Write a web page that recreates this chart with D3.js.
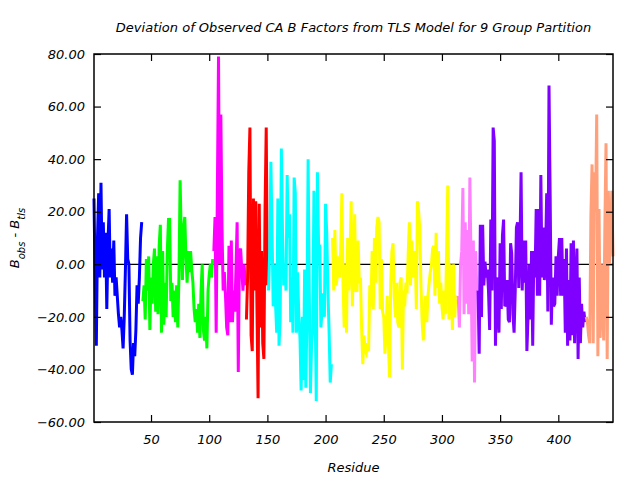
<!DOCTYPE html>
<html>
<head>
<meta charset="utf-8">
<script src="https://cdn.jsdelivr.net/npm/d3@7"></script>
<style>
  body { margin: 0; background: #fff; }
  svg text { font-family: "DejaVu Sans", sans-serif; font-style: italic; fill: #000; }
</style>
</head>
<body>
<svg id="chart" width="640" height="480"></svg>
<script>
// residue ranges of the 9 TLS groups (first residue of each)
var groupStarts = [1, 43, 104, 132, 151, 206, 314, 331, 424];
var groupColors = ["#0000ff", "#00ff00", "#ff00ff", "#ff0000", "#00ffff", "#ffff00", "#ff80ff", "#8000ff", "#ffa07a"];

// B_obs - B_tls per residue, one array per group
var group1 = [25,-7,-31,10,27,-5,31,-2,16,-5,12,-17,8,21,-5,6,-7,9,-12,-5,-12,-19,-24,-20,-25,-32,-20,-2,19,2,0,-29,-40,-42,-30,-35,-25,-8,-15,-5,10,16];
var group2 = [-14,-8,-21,2,-10,3,-25,-5,-15,0,6,-18,3,-19,7,15,-26,5,-23,-7,-20,5,17,17,-14,-7,-20,-10,-22,-8,-24,-5,32,10,-6,14,18,3,-7,5,-3,5,-2,-7,-17,-22,-17,-26,-15,-28,-10,0,-25,-29,-20,-32,-10,-4,0,-5,2];
var group3 = [5,18,-26,27,79,0,57,14,-10,-3,-12,-24,-27,7,-22,9,-22,-10,-18,-2,16,-41,5,6,-2,-10,0,-8];
var group4 = [-21,-5,35,52,-27,-33,25,-10,24,-15,-51,23,-24,5,-30,-36,21,52,-8];
var group5 = [-10,5,39,12,-16,0,-15,-26,25,-31,-20,44,12,-8,0,-10,34,10,19,-22,-5,-26,33,27,-26,-3,-20,-28,-48,-20,-44,-2,-47,-20,40,-10,-49,-30,-25,28,-15,-52,35,7,7,-24,-17,-11,-20,23,12,-10,-25,-45,-38];
var group6 = [10,-10,13,-8,-5,3,-5,5,27,-7,-24,0,-26,10,-10,3,24,-16,0,19,-10,-10,9,-7,-5,-25,-38,-27,-33,-34,-30,-33,-8,-16,5,-17,10,-7,14,18,16,-17,2,-18,-20,-34,-27,-12,-30,-43,-7,5,8,-12,-20,-7,-22,-24,-7,-5,-40,-10,-16,-7,-11,4,16,-8,9,-5,3,5,-17,24,20,13,-8,-22,-29,-17,-12,-22,-12,-7,-3,0,6,7,-12,12,-9,5,-15,-7,-16,-21,-10,-19,5,30,-21,0,-7,-25,0,-20,-12,-13];
var group7 = [-12,-24,0,5,29,-19,16,-15,13,-19,33,0,-37,9,-45,5,-10];
var group8 = [-10,-34,15,-20,15,-8,1,-5,-2,-10,-25,17,-10,52,47,-31,-5,-15,-26,8,-17,11,17,-16,-15,-6,-21,-22,8,4,-19,-26,-10,14,16,-9,5,35,-10,9,-7,9,-33,-20,0,-21,5,-31,5,-5,21,-12,21,-12,34,-5,14,-6,3,27,-18,68,26,-23,-5,-16,-15,3,-12,3,10,-12,10,-12,2,-26,6,-31,-6,-29,8,-27,9,-30,-7,6,-36,-5,-30,-15,-24,-18,-22];
var group9 = [-20,-22,-27,-30,18,38,-30,35,20,57,-35,21,-28,0,-13,-29,14,46,-36,28,0,12,28,3];

var groups = [group1, group2, group3, group4, group5, group6, group7, group8, group9];
var xTicks = [50, 100, 150, 200, 250, 300, 350, 400];
var yTicks = [-60, -40, -20, 0, 20, 40, 60, 80];

var margin = {left: 94, right: 27, top: 54, bottom: 58};
var width = 640 - margin.left - margin.right;
var height = 480 - margin.top - margin.bottom;

var svg = d3.select("#chart");
var g = svg.append("g").attr("transform", "translate(" + margin.left + "," + margin.top + ")");

var x = d3.scaleLinear().domain([1, 447]).range([0, width]);
var y = d3.scaleLinear().domain([-60, 80]).range([height, 0]);

// zero line
g.append("line")
  .attr("x1", 0).attr("x2", width)
  .attr("y1", y(0)).attr("y2", y(0))
  .attr("stroke", "#000").attr("stroke-width", 1.2);

var line = d3.line()
  .x(function(d) { return x(d.r); })
  .y(function(d) { return y(d.v); });

groups.forEach(function(vals, k) {
  var pts = vals.map(function(v, i) { return {r: groupStarts[k] + i, v: v}; });
  g.append("path")
    .datum(pts)
    .attr("d", line)
    .attr("fill", "none")
    .attr("stroke", groupColors[k])
    .attr("stroke-width", 3)
    .attr("stroke-linejoin", "miter");
});

// axes, ticks inside, mirrored
function styleAxis(sel) {
  sel.select(".domain").remove();
  sel.selectAll(".tick line").attr("stroke", "#000").attr("stroke-width", 1.2);
  sel.selectAll("text").style("font-size", "13px").style("font-family", "DejaVu Sans").style("font-style", "italic");
}

g.append("g")
  .attr("transform", "translate(0," + height + ")")
  .call(d3.axisBottom(x).tickValues(xTicks).tickSize(-7).tickPadding(13))
  .call(styleAxis);
g.append("g")
  .call(d3.axisTop(x).tickValues(xTicks).tickSize(-7).tickFormat(""))
  .call(styleAxis);
g.append("g")
  .call(d3.axisLeft(y).tickValues(yTicks).tickSize(-7).tickPadding(9).tickFormat(d3.format(".2f")))
  .call(styleAxis);
g.append("g")
  .attr("transform", "translate(" + width + ",0)")
  .call(d3.axisRight(y).tickValues(yTicks).tickSize(-7).tickFormat(""))
  .call(styleAxis);

g.append("rect")
  .attr("width", width).attr("height", height)
  .attr("fill", "none").attr("stroke", "#000").attr("stroke-width", 1.5);

// title and labels
svg.append("text")
  .attr("x", margin.left + width / 2).attr("y", 32)
  .attr("text-anchor", "middle")
  .style("font-size", "13px")
  .text("Deviation of Observed CA B Factors from TLS Model for 9 Group Partition");

svg.append("text")
  .attr("x", margin.left + width / 2).attr("y", 472)
  .attr("text-anchor", "middle")
  .style("font-size", "13px")
  .text("Residue");

var yl = svg.append("text")
  .attr("transform", "translate(19," + (margin.top + height / 2) + ") rotate(-90)")
  .attr("text-anchor", "middle")
  .style("font-size", "13px");
yl.append("tspan").text("B");
yl.append("tspan").attr("baseline-shift", "sub").style("font-size", "10px").text("obs");
yl.append("tspan").text(" - B");
yl.append("tspan").attr("baseline-shift", "sub").style("font-size", "10px").text("tls");
</script>
</body>
</html>
